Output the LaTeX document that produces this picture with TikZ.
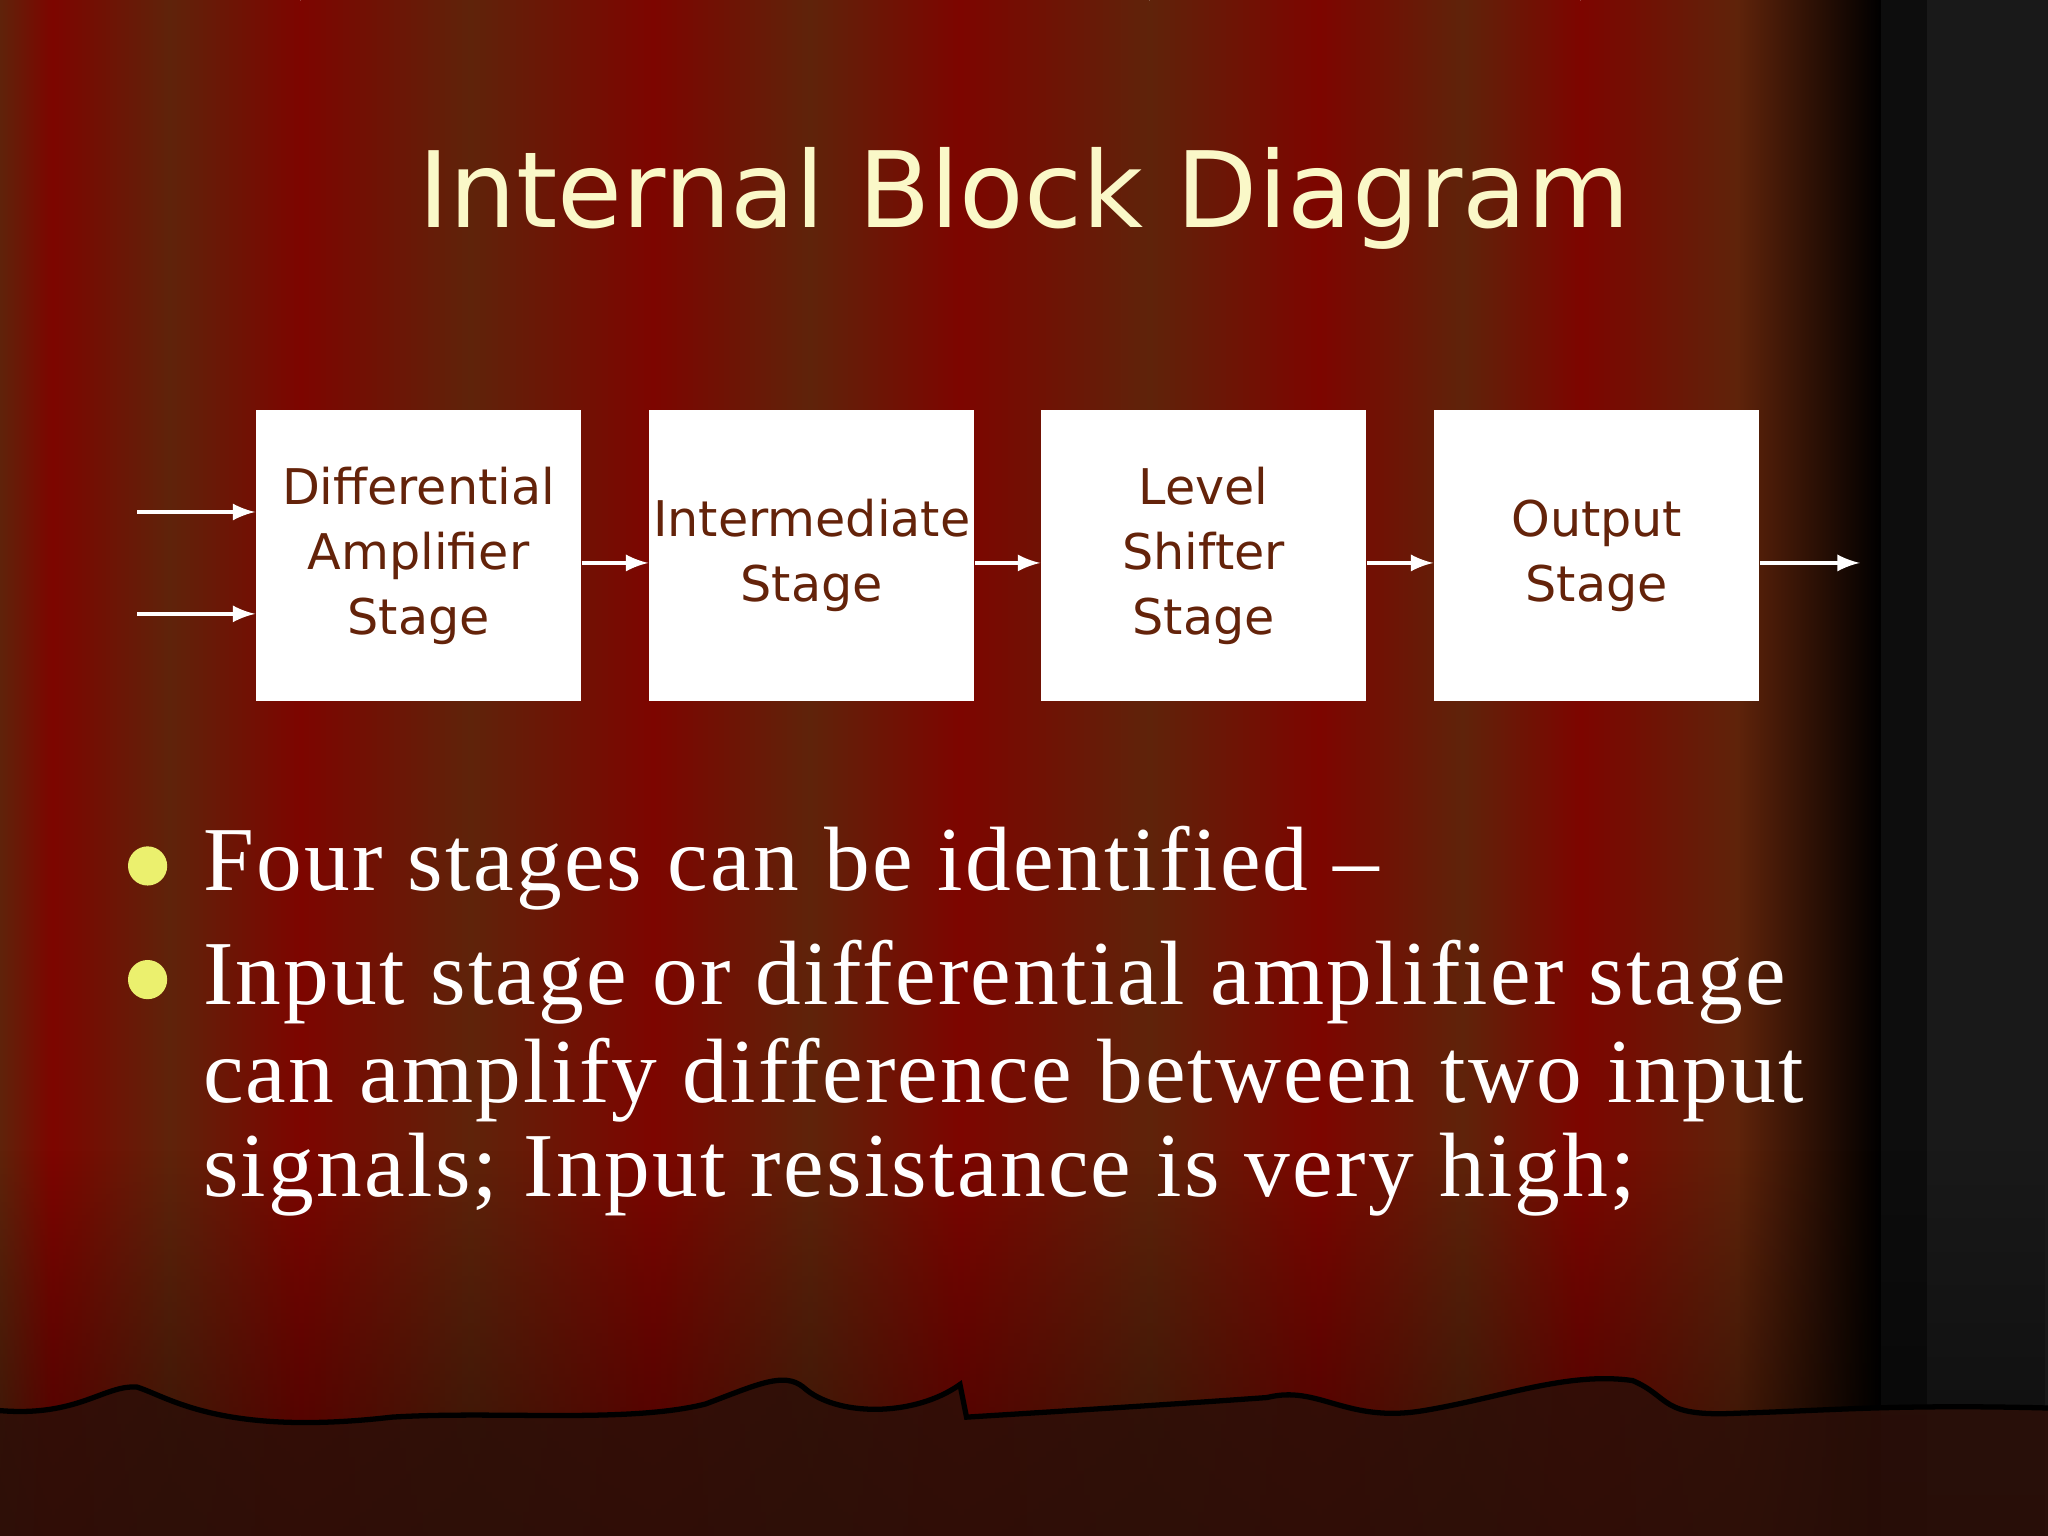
\documentclass[tikz,border=0pt]{standalone}
\usepackage{fontspec}
\usetikzlibrary{fadings}
\setmainfont{Liberation Serif}[LetterSpace=2.5]
\newfontfamily\tah{DejaVu Sans}
\begin{document}
\definecolor{cred}{RGB}{125,5,0}
\definecolor{cbrn}{RGB}{95,35,10}
\definecolor{cdark}{RGB}{45,15,8}
\definecolor{cream}{RGB}{250,248,200}
\definecolor{boxtxt}{RGB}{100,35,10}
\definecolor{bul}{RGB}{235,240,110}
\begin{tikzpicture}[x=0.013061cm,y=-0.013061cm,
  blk/.style={fill=white,draw=none,minimum width=249*0.013061cm,text width=245*0.013061cm,minimum height=223*0.013061cm,align=center,font=\tah\fontsize{14}{18.5}\selectfont,text=boxtxt,inner sep=0pt},
  arr/.style={white,line width=1.2pt,-latex},
  btxt/.style={anchor=base west,inner sep=0pt,text=white,font=\fontsize{26}{34}\selectfont}]
\useasboundingbox (0,0) rectangle (1568,1176);
\def\seg#1#2#3#4{\shade[left color=#3,right color=#4] (#1,0) rectangle (#2,1176);}
\seg{0}{40}{cbrn}{cred}
\seg{40}{130}{cred}{cbrn}
\seg{130}{230}{cbrn}{cred}
\seg{230}{360}{cred}{cbrn}
\seg{360}{500}{cbrn}{cred}
\seg{500}{620}{cred}{cbrn}
\seg{620}{735}{cbrn}{cred}
\seg{735}{880}{cred}{cbrn}
\seg{880}{1010}{cbrn}{cred}
\seg{1010}{1120}{cred}{cbrn}
\seg{1120}{1210}{cbrn}{cred}
\seg{1210}{1330}{cred}{cbrn}
\seg{1330}{1440}{cbrn}{black}
\fill[black!95] (1440,0) rectangle (1568,1176);
\fill[black!90] (1475,0) rectangle (1568,1176);
\fill[black,opacity=0.45,path fading=north] (0,880) rectangle (1568,1176);
% bottom wave
\path[fill=cdark,fill opacity=0.85] (0,1080) .. controls (60,1085) and (80,1060) .. (105,1062)
  .. controls (130,1070) and (170,1100) .. (300,1085) .. controls (380,1080) and (480,1090) .. (540,1075)
  .. controls (580,1060) and (600,1050) .. (615,1062) .. controls (640,1085) and (700,1085) .. (735,1060)
  -- (740,1085) .. controls (820,1080) and (900,1075) .. (970,1070) .. controls (1010,1060) and (1030,1090) .. (1090,1080)
  .. controls (1150,1070) and (1200,1050) .. (1250,1057) .. controls (1280,1070) and (1270,1085) .. (1330,1082)
  .. controls (1400,1080) and (1450,1075) .. (1568,1078) -- (1568,1176) -- (0,1176) -- cycle;
\draw[black,line width=1.5pt] (0,1080) .. controls (60,1085) and (80,1060) .. (105,1062)
  .. controls (130,1070) and (170,1100) .. (300,1085) .. controls (380,1080) and (480,1090) .. (540,1075)
  .. controls (580,1060) and (600,1050) .. (615,1062) .. controls (640,1085) and (700,1085) .. (735,1060)
  -- (740,1085) .. controls (820,1080) and (900,1075) .. (970,1070) .. controls (1010,1060) and (1030,1090) .. (1090,1080)
  .. controls (1150,1070) and (1200,1050) .. (1250,1057) .. controls (1280,1070) and (1270,1085) .. (1330,1082)
  .. controls (1400,1080) and (1450,1075) .. (1568,1078);
% title
\node[font=\tah\fontsize{30}{36}\selectfont,text=cream] (title) at (784,152) {Internal Block Diagram};
% blocks
\node[blk] (b1) at (320.5,425.5) {Differential\\Amplifier\\Stage};
\node[blk] (b2) at (621.5,425.5) {Intermediate\\Stage};
\node[blk] (b3) at (921.5,425.5) {Level\\Shifter\\Stage};
\node[blk] (b4) at (1222.5,425.5) {Output\\Stage};
\coordinate (i1) at (105,392); \coordinate (i2) at (105,470);
\coordinate (o) at (1424,431);
\draw[arr] (i1) -- (i1 -| b1.west);
\draw[arr] (i2) -- (i2 -| b1.west);
\draw[arr] (b1.east |- 0,431) -- (b2.west |- 0,431);
\draw[arr] (b2.east |- 0,431) -- (b3.west |- 0,431);
\draw[arr] (b3.east |- 0,431) -- (b4.west |- 0,431);
\draw[arr] (b4.east |- o) -- (o);
% bullets
\fill[bul] (113,663) circle (15) (113,750) circle (15);
\node[btxt] (t1) at (155,682) {Four stages can be identified –};
\node[btxt] (t2) at (155,769) {Input stage or differential amplifier stage};
\node[btxt] (t3) at (155,844) {can amplify difference between two input};
\node[btxt] (t4) at (155,916) {signals; Input resistance is very high;};
\end{tikzpicture}
\end{document}
